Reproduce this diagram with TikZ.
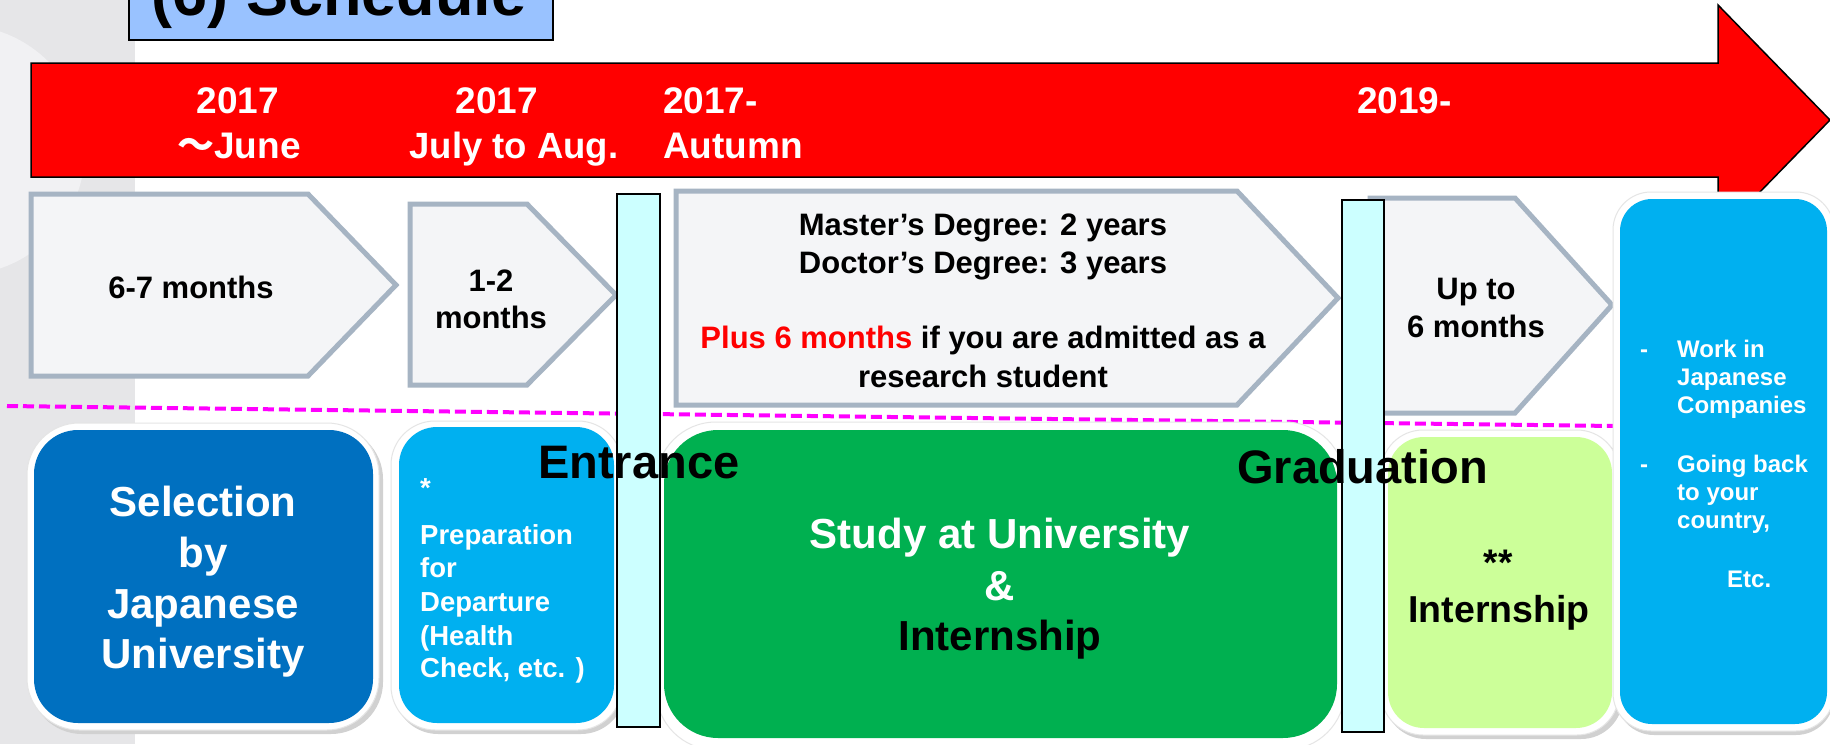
\documentclass[tikz,border=0pt]{standalone}
\usepackage{fontspec}
\setmainfont{Liberation Sans}
\newfontfamily\cjk{Noto Sans CJK JP}
\definecolor{stripgray}{HTML}{E6E6E8}
\definecolor{striplight}{HTML}{F1F1F3}
\definecolor{titleblue}{HTML}{99C2FF}
\definecolor{pentfill}{HTML}{F4F5F7}
\definecolor{pentline}{HTML}{A6B4C3}
\definecolor{cyanbar}{HTML}{CCFFFF}
\definecolor{darkblue}{HTML}{0070C0}
\definecolor{lightblue}{HTML}{00B0F0}
\definecolor{studygreen}{HTML}{00B050}
\definecolor{palegreen}{HTML}{CCFF99}
\definecolor{dashmag}{HTML}{FF00FF}
\begin{document}
\begin{tikzpicture}[x=1pt,y=-1pt,
  fs/.style={font=\bfseries\fontsize{#1}{#1}\selectfont},
  txt/.style={inner sep=0pt, anchor=base},
  ltxt/.style={inner sep=0pt, anchor=base west},
  pent/.style={fill=pentfill, draw=pentline, line width=5pt, line join=miter},
  cbar/.style={fill=cyanbar, draw=black, line width=2pt},
  shadowbox/.style={fill=black!18},
  rim/.style={fill=white, draw=black!10, line width=1pt}]
\useasboundingbox (0,0) rectangle (1830,744);
\clip (0,0) rectangle (1830,744);
% background
\fill[white] (0,0) rectangle (1830,744);
\fill[stripgray] (0,0) rectangle (135,744);
\begin{scope}
  \clip (0,0) rectangle (135,744);
  \fill[striplight] (-40,150) circle (125);
\end{scope}
% title
\draw[fill=titleblue, line width=2pt] (129,-10) rectangle (553,40);
\node[txt, fs=63] (title) at (339,15) {(6) Schedule};
% red arrow
\draw[fill=red, draw=black, line width=1.5pt, line join=miter]
  (31,63) -- (1718,63) -- (1718,5) -- (1830,120) -- (1718,235) -- (1718,177) -- (31,177) -- cycle;
\node[txt, fs=37, white] (y1a) at (238,113) {2017};
\node[txt, fs=37, white] (y1b) at (239,158) {{\cjk ～}June};
\node[txt, fs=37, white] (y2a) at (497,113) {2017};
\node[txt, fs=36.5, white] (y2b) at (514,158) {July to Aug.};
\node[ltxt, fs=37, white] (y3a) at (663,113) {2017-};
\node[ltxt, fs=37, white] (y3b) at (663,158) {Autumn};
\node[ltxt, fs=37, white] (y4a) at (1357,113) {2019-};
% pentagons
\draw[pent] (31,194) -- (308,194) -- (396,285) -- (308,376) -- (31,376) -- cycle;
\draw[pent] (410,204) -- (527,204) -- (616,295) -- (527,385) -- (410,385) -- cycle;
\draw[pent] (676,191) -- (1237,191) -- (1338,298) -- (1237,405) -- (676,405) -- cycle;
\draw[pent] (1370,198) -- (1515,198) -- (1612,305) -- (1515,413) -- (1370,413) -- cycle;
\node[txt, fs=31] (p1) at (191,298) {6-7 months};
\node[txt, fs=31] (p2a) at (491,291) {1-2};
\node[txt, fs=31] (p2b) at (491,328) {months};
\node[txt, fs=31] (p3a) at (983,235) {Master’s Degree: 2 years};
\node[txt, fs=31] (p3b) at (983,273) {Doctor’s Degree: 3 years};
\node[txt, fs=31] (p3c) at (983,348) {{\color{red}Plus 6 months} if you are admitted as a};
\node[txt, fs=31] (p3d) at (983,387) {research student};
\node[txt, fs=31] (p4a) at (1476,299) {Up to};
\node[txt, fs=31] (p4b) at (1476,337) {6 months};
% dashed line
\coordinate (dl) at (7,406);
\coordinate (dr) at (1615,426);
\draw[dashmag, line width=4pt, dash pattern=on 11pt off 5pt] (dl) -- (dr);
% bottom boxes
\fill[shadowbox, rounded corners=52] (30,427) rectangle (383,734);
\draw[rim, rounded corners=52] (27,423) rectangle (379,730);
\fill[darkblue, rounded corners=44] (34,430) rectangle (373,723);
\fill[shadowbox, rounded corners=44] (394,425) rectangle (625,734);
\draw[rim, rounded corners=44] (391,421) rectangle (622,730);
\fill[lightblue, rounded corners=38] (399,427) rectangle (614,723);
\draw[rim, rounded corners=60] (656,422) rectangle (1345,750);
\fill[studygreen, rounded corners=54] (664,430) rectangle (1337,738);
\fill[shadowbox, rounded corners=42] (1384,434) rectangle (1623,739);
\draw[rim, rounded corners=42] (1381,430) rectangle (1619,735);
\fill[palegreen, rounded corners=36] (1388,437) rectangle (1612,728);
% cyan bars
\draw[cbar] (617,194) rectangle (660,727);
\draw[cbar] (1342,200) rectangle (1384,732);
% right box on top of arrow head
\fill[shadowbox, rounded corners=38] (1616,197) rectangle (1834,735);
\draw[rim, rounded corners=38] (1613,192) rectangle (1834,731);
\fill[lightblue, rounded corners=32] (1620,199) rectangle (1827,724);
% bottom texts
\node[txt, fs=42, white] (s1) at (203,516) {Selection};
\node[txt, fs=42, white] (s2) at (203,567) {by};
\node[txt, fs=42, white] (s3) at (203,618) {Japanese};
\node[txt, fs=42, white] (s4) at (203,668) {University};
\node[ltxt, fs=27.5, white] (b0) at (420,497) {*};
\node[ltxt, fs=27.5, white] (b1) at (420,544) {Preparation};
\node[ltxt, fs=27.5, white] (b2) at (420,577) {for};
\node[ltxt, fs=27.5, white] (b3) at (420,611) {Departure};
\node[ltxt, fs=27.5, white] (b4) at (420,645) {(Health};
\node[ltxt, fs=27.5, white] (b5) at (420,677) {Check, etc. )};
\node[txt, fs=42, white] (c1) at (1000,548) {Study at University};
\node[txt, fs=42, white] (c2) at (1000,600) {\&};
\node[txt, fs=42] (c3) at (1000,650) {Internship};
\node[txt, fs=37] (d1) at (1498,575) {**};
\node[txt, fs=37.5] (d2) at (1499,622) {Internship};
\node[txt, fs=24, white] (e0) at (1644,357) {-};
\node[ltxt, fs=24, white] (e1) at (1677,357) {Work in};
\node[ltxt, fs=24, white] (e2) at (1677,385) {Japanese};
\node[ltxt, fs=24, white] (e3) at (1677,413) {Companies};
\node[txt, fs=24, white] (e4) at (1644,472) {-};
\node[ltxt, fs=24, white] (e5) at (1677,472) {Going back};
\node[ltxt, fs=24, white] (e6) at (1677,500) {to your};
\node[ltxt, fs=24, white] (e7) at (1677,528) {country,};
\node[ltxt, fs=24, white] (e8) at (1727,587) {Etc.};
% milestone labels
\node[ltxt, fs=47] (ent) at (538,478) {Entrance};
\node[ltxt, fs=47] (grad) at (1237,483) {Graduation};
\end{tikzpicture}
\end{document}
